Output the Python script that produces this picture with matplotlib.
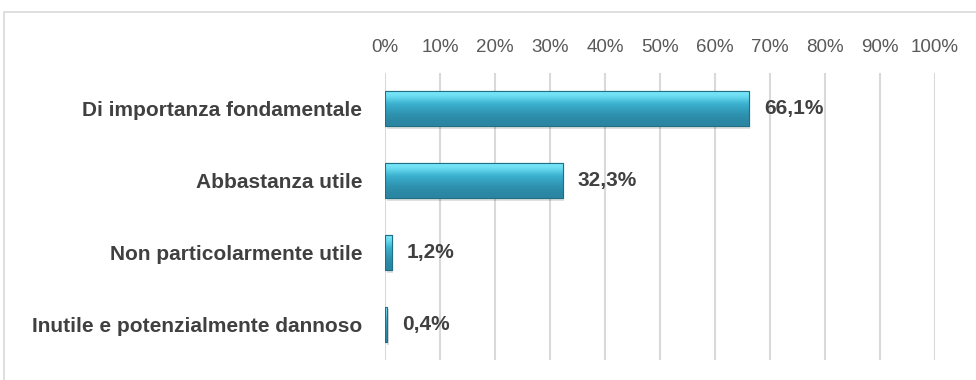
import matplotlib.pyplot as plt
import matplotlib.patches as mpatches
import numpy as np

categories = ["Di importanza fondamentale", "Abbastanza utile",
              "Non particolarmente utile", "Inutile e potenzialmente dannoso"]
values = [66.1, 32.3, 1.2, 0.4]
ticks = [0, 10, 20, 30, 40, 50, 60, 70, 80, 90, 100]

plt.rcParams['font.family'] = ['Liberation Sans', 'DejaVu Sans']

fig = plt.figure(figsize=(9.76, 3.8), dpi=100)
ax = fig.add_axes([0.3945, 0.0526, 0.5635, 0.7553])

# outer chart frame (only left and top edges fall inside the image)
frame = mpatches.Rectangle((4 / 976, -0.1), 1.2, 1 - 12 / 380 + 0.1,
                           transform=fig.transFigure, fill=False,
                           edgecolor="#d9d9d9", linewidth=1.2)
fig.patches.append(frame)

y = np.arange(len(categories))
bars = ax.barh(y, values, height=0.49, color="#35aeca",
               edgecolor="#1f6f85", linewidth=0.8, zorder=3)

# vertical gradient to give the bars a bevelled look
grad = np.array([0.0, 0.08, 0.25, 0.5, 0.75, 0.92, 1.0])
light = np.array([0x7a, 0xe8, 0xfa]) / 255
mid = np.array([0x3a, 0xb3, 0xd2]) / 255
dark = np.array([0x2a, 0x86, 0xa2]) / 255
cols = []
for g in grad:
    if g < 0.25:
        t = g / 0.25
        cols.append(light * (1 - t) + mid * t)
    else:
        t = (g - 0.25) / 0.75
        cols.append(mid * (1 - t) + dark * t)
img = np.array(cols)[::-1].reshape(-1, 1, 3)

for b in bars:
    x0, y0 = b.get_x(), b.get_y()
    w, h = b.get_width(), b.get_height()
    # soft shadow under the bar
    ax.add_patch(mpatches.Rectangle((x0 + 0.3, y0 + 0.04), w, h, color="#000000",
                                    alpha=0.12, linewidth=0, zorder=2.5))
    im = ax.imshow(img, extent=[x0, x0 + w, y0, y0 + h], aspect='auto',
                   interpolation='bicubic', zorder=3.5, origin='upper')
    im.set_clip_path(b)
    ax.add_patch(mpatches.Rectangle((x0, y0), w, h, fill=False,
                                    edgecolor="#1f6f85", linewidth=0.8, zorder=4))

for yi, v in zip(y, values):
    ax.annotate(f"{v:.1f}".replace('.', ',') + '%', (v, yi),
                xytext=(11, 0), textcoords='offset points',
                va='center', ha='left', fontsize=15, fontweight='bold',
                color="#404040")

ax.set_xlim(0, 100)
ax.set_ylim(len(categories) - 0.5, -0.5)
ax.set_xticks(ticks)
ax.set_xticklabels([f"{t}%" for t in ticks], fontsize=13.5, color="#595959")
ax.xaxis.tick_top()
ax.tick_params(axis='x', length=0, pad=12)
ax.set_yticks(y)
ax.set_yticklabels(categories, fontsize=15, fontweight='bold', color="#404040")
ax.tick_params(axis='y', length=0, pad=16.5)
ax.grid(axis='x', color="#d9d9d9", linewidth=1.5, zorder=0)
ax.set_axisbelow(True)
for s in ax.spines.values():
    s.set_visible(False)

fig.savefig("out.png", dpi=100)
